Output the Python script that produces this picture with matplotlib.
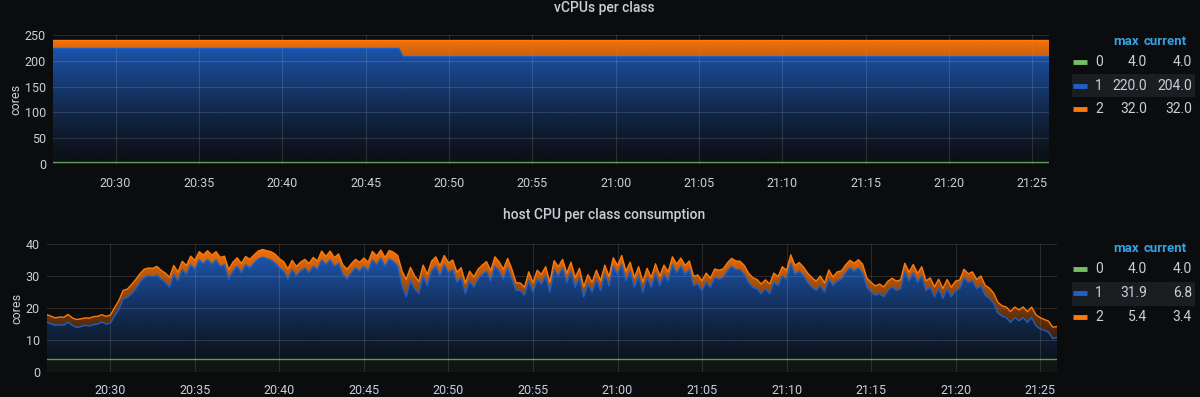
import numpy as np
import pandas as pd
import matplotlib
matplotlib.use('Agg')
import matplotlib.pyplot as plt
import matplotlib.dates as mdates
import matplotlib.colors as mcolors
from matplotlib.patches import Rectangle
from matplotlib.lines import Line2D

plt.rcParams['font.family'] = ['Roboto', 'DejaVu Sans']

# --- data (15 s samples, 20:26:15 -> 21:26:00) ---
times = pd.date_range('2021-01-01 20:26:15', periods=240, freq='15s')

series_names = ['0', '1', '2']
series_colors = ['#73BF69', '#1F60C4', '#FF780A']

vcpu_green = [4.0] * 240
vcpu_blue = [220.0] * 84 + [204.0] * 156
vcpu_orange = [16.0] * 84 + [32.0] * 156
vcpu_max = ['4.0', '220.0', '32.0']
vcpu_current = ['4.0', '204.0', '32.0']

host_green = [4.0] * 240
host_blue = [
    11.6, 11.0, 10.6, 10.8, 10.6, 11.6, 10.6, 9.9, 10.2, 10.6, 10.4, 10.8, 11.0, 11.6, 11.0, 11.3,
    13.5, 15.5, 18.8, 19.3, 20.5, 22.0, 24.0, 25.5, 26.0, 25.8, 26.3, 25.0, 24.0, 22.5, 26.5, 24.5,
    28.0, 26.5, 29.5, 28.0, 31.0, 29.8, 31.2, 29.6, 31.0, 29.0, 29.5, 25.0, 27.5, 29.0, 27.0, 29.5,
    28.5, 30.0, 31.3, 31.9, 31.4, 31.0, 30.0, 28.5, 27.5, 25.0, 28.0, 26.0, 27.5, 28.5, 27.0, 29.0,
    28.0, 31.0, 29.5, 31.0, 29.0, 30.0, 26.5, 25.0, 27.0, 28.5, 27.5, 29.0, 27.5, 31.0, 29.5, 31.5,
    29.0, 31.3, 30.5, 29.0, 23.0, 19.5, 24.5, 22.0, 20.5, 26.0, 23.0, 27.5, 29.0, 26.0, 29.5, 27.0,
    28.0, 24.0, 25.5, 20.5, 24.5, 22.5, 25.0, 26.5, 27.5, 24.5, 29.0, 27.5, 25.0, 28.5, 25.0, 21.5,
    21.5, 20.0, 24.5, 21.0, 25.0, 23.5, 26.0, 21.0, 28.0, 26.0, 28.5, 24.0, 27.5, 22.5, 25.5, 19.5,
    23.5, 21.0, 25.0, 21.5, 26.5, 23.0, 29.0, 26.5, 29.5, 24.5, 27.5, 22.5, 26.0, 21.0, 25.5, 22.5,
    27.0, 23.0, 26.5, 24.5, 29.5, 27.0, 29.0, 26.5, 28.0, 23.0, 23.5, 21.5, 24.0, 22.5, 25.5, 25.0,
    25.5, 27.5, 29.0, 28.0, 28.0, 26.5, 24.0, 22.5, 22.0, 20.5, 22.0, 20.5, 24.0, 23.0, 26.0, 25.0,
    30.0, 26.5, 27.5, 26.0, 24.0, 22.5, 21.5, 23.0, 21.0, 25.0, 23.0, 24.5, 25.0, 27.0, 28.5, 27.5,
    28.5, 27.0, 22.5, 21.0, 20.0, 20.5, 19.5, 21.5, 22.5, 21.5, 22.0, 27.5, 24.5, 27.0, 24.0, 26.0,
    21.5, 22.5, 19.5, 22.0, 19.0, 22.0, 19.5, 21.5, 22.0, 25.5, 24.0, 24.5, 22.0, 23.0, 20.0, 19.0,
    17.5, 14.5, 13.5, 13.0, 11.5, 13.0, 12.0, 13.0, 11.5, 13.0, 10.5, 9.5, 9.0, 8.5, 6.5, 6.8,
]
host_orange = [
    2.3, 2.4, 2.3, 2.4, 2.5, 2.4, 2.3, 2.5, 2.4, 2.3, 2.4, 2.5, 2.4, 2.3, 2.4, 2.5,
    2.6, 2.8, 2.7, 2.6, 2.8, 2.9, 2.7, 2.6, 2.5, 2.6, 2.7, 2.8, 2.9, 3.1, 2.8, 2.7,
    2.6, 2.8, 2.7, 2.9, 2.6, 2.8, 2.7, 2.9, 2.6, 2.8, 2.7, 3.0, 2.8, 2.7, 2.9, 2.6,
    2.7, 2.6, 2.5, 2.4, 2.5, 2.6, 2.8, 2.9, 3.0, 3.2, 2.9, 3.0, 2.8, 2.7, 2.9, 2.8,
    2.7, 2.8, 2.6, 2.8, 2.7, 2.9, 3.0, 3.1, 2.8, 2.7, 2.8, 2.6, 2.8, 2.7, 2.8, 2.6,
    2.8, 2.7, 2.9, 3.4, 4.6, 5.4, 4.2, 4.0, 3.8, 3.4, 3.5, 3.1, 3.0, 3.2, 2.9, 3.1,
    3.0, 3.2, 3.1, 3.3, 3.0, 3.2, 3.1, 2.9, 3.0, 3.2, 3.0, 2.9, 3.1, 3.0, 3.2, 2.4,
    2.3, 2.5, 2.8, 2.9, 2.8, 3.0, 2.9, 3.0, 2.8, 2.9, 2.7, 2.9, 2.8, 3.0, 2.9, 3.1,
    2.9, 3.0, 2.8, 3.0, 2.9, 2.8, 2.7, 2.8, 2.9, 3.0, 2.8, 3.0, 2.9, 3.1, 2.9, 3.0,
    2.8, 3.0, 2.9, 2.8, 2.5, 2.7, 2.6, 2.8, 2.7, 2.9, 2.8, 3.0, 2.9, 2.8, 2.7, 2.8,
    2.7, 2.6, 2.5, 2.7, 2.6, 2.8, 2.9, 3.0, 2.9, 3.0, 2.8, 3.0, 2.9, 2.8, 2.9, 2.8,
    2.6, 2.8, 2.7, 2.8, 2.9, 3.0, 2.9, 3.0, 2.8, 2.9, 2.7, 2.8, 2.6, 2.5, 2.4, 2.5,
    2.6, 2.7, 2.9, 3.0, 2.9, 3.0, 3.1, 2.9, 2.8, 2.9, 2.8, 2.5, 2.7, 2.6, 2.8, 2.9,
    3.0, 2.9, 3.1, 3.0, 3.1, 2.9, 3.0, 2.9, 2.8, 2.6, 2.7, 2.8, 2.9, 3.0, 3.1, 3.2,
    3.2, 3.3, 3.2, 3.3, 3.4, 3.3, 3.4, 3.3, 3.4, 3.3, 3.4, 3.5, 3.4, 3.4, 3.5, 3.4,
]
host_max = ['4.0', '31.9', '5.4']
host_current = ['4.0', '6.8', '3.4']

BG = '#0b0c0e'
TXT = '#c7d0d9'
W, H = 1200, 397


def fx(px):
    return px / W


def fy(py):
    return 1 - py / H


def gradient_fill(ax, x, lo, hi, color, ymax, zorder):
    # fill between lo/hi with an opacity ramp going from transparent at 0 to opaque at ymax
    poly = ax.fill_between(x, lo, hi, facecolor='none', edgecolor='none')
    rgb = mcolors.to_rgb(color)
    z = np.zeros((200, 1, 4))
    z[:, :, :3] = rgb
    z[:, 0, 3] = 0.04 + 0.96 * np.linspace(0, 1, 200) ** 1.3
    x0, x1 = mdates.date2num(x[0]), mdates.date2num(x[-1])
    im = ax.imshow(z, aspect='auto', extent=[x0, x1, 0, ymax], origin='lower', zorder=zorder,
                   interpolation='bilinear')
    im.set_clip_path(poly.get_paths()[0], transform=ax.transData)


def stacked_panel(ax, green, blue, orange, ymax, yticks):
    ax.set_facecolor(BG)
    g = np.array(green)
    b = g + np.array(blue)
    o = b + np.array(orange)
    ax.fill_between(times, 0, g, color=series_colors[0], alpha=0.06, lw=0, zorder=1)
    gradient_fill(ax, times, g, b, series_colors[1], ymax, 2)
    gradient_fill(ax, times, b, o, series_colors[2], ymax, 3)
    ax.plot(times, g, color=series_colors[0], lw=1, alpha=0.8, zorder=4)
    ax.plot(times, b, color=series_colors[1], lw=1, zorder=4)
    ax.plot(times, o, color=series_colors[2], lw=1, zorder=4)
    ax.set_xlim(times[0], times[-1])
    ax.set_ylim(0, ymax)
    ax.set_yticks(yticks)
    ax.xaxis.set_major_locator(mdates.MinuteLocator(byminute=range(0, 60, 5)))
    ax.xaxis.set_major_formatter(mdates.DateFormatter('%H:%M'))
    ax.grid(True, color='white', alpha=0.12, lw=0.8, zorder=5)
    ax.set_axisbelow(False)
    for s in ax.spines.values():
        s.set_visible(False)
    ax.tick_params(length=0, colors=TXT, labelsize=9)
    ax.tick_params(axis='x', pad=9)
    ax.tick_params(axis='y', pad=5)
    ax.set_ylabel('cores', color=TXT, fontsize=9, labelpad=2)


def legend(header_y, rows_y, hl_y, maxs, currents):
    fig.text(fx(1139), fy(header_y), 'max', color='#33a2e5', fontsize=9.5, fontweight='bold',
             ha='right', va='center')
    fig.text(fx(1187), fy(header_y), 'current', color='#33a2e5', fontsize=9.5, fontweight='bold',
             ha='right', va='center')
    fig.add_artist(Rectangle((fx(1072), fy(hl_y[1])), fx(1195) - fx(1072), fy(hl_y[0]) - fy(hl_y[1]),
                             transform=fig.transFigure, facecolor='#1c1d21', edgecolor='none', zorder=0))
    for i, ry in enumerate(rows_y):
        fig.add_artist(Line2D([fx(1073), fx(1087)], [fy(ry), fy(ry)], transform=fig.transFigure,
                              color=series_colors[i], lw=3.5, solid_capstyle='butt'))
        fig.text(fx(1095), fy(ry), series_names[i], color=TXT, fontsize=10, ha='left', va='center')
        fig.text(fx(1147), fy(ry), maxs[i], color=TXT, fontsize=10, ha='right', va='center')
        fig.text(fx(1192), fy(ry), currents[i], color=TXT, fontsize=10, ha='right', va='center')


fig = plt.figure(figsize=(12, 3.97), dpi=100, facecolor=BG)

ax1 = fig.add_axes([fx(53), fy(164), fx(1049) - fx(53), fy(35) - fy(164)])
stacked_panel(ax1, vcpu_green, vcpu_blue, vcpu_orange, 250, [0, 50, 100, 150, 200, 250])
fig.text(fx(604), fy(8), 'vCPUs per class', color=TXT, fontsize=10, fontweight='medium',
         ha='center', va='center')
legend(41.7, [62.3, 85.7, 109.3], (74, 97), vcpu_max, vcpu_current)

ax2 = fig.add_axes([fx(47), fy(372), fx(1057) - fx(47), fy(244) - fy(372)])
stacked_panel(ax2, host_green, host_blue, host_orange, 40, [0, 10, 20, 30, 40])
fig.text(fx(604), fy(215), 'host CPU per class consumption', color=TXT, fontsize=10,
         fontweight='medium', ha='center', va='center')
legend(248.3, [269.3, 293.3, 317.3], (282, 305.7), host_max, host_current)

fig.savefig('out.png', dpi=100, facecolor=BG)
